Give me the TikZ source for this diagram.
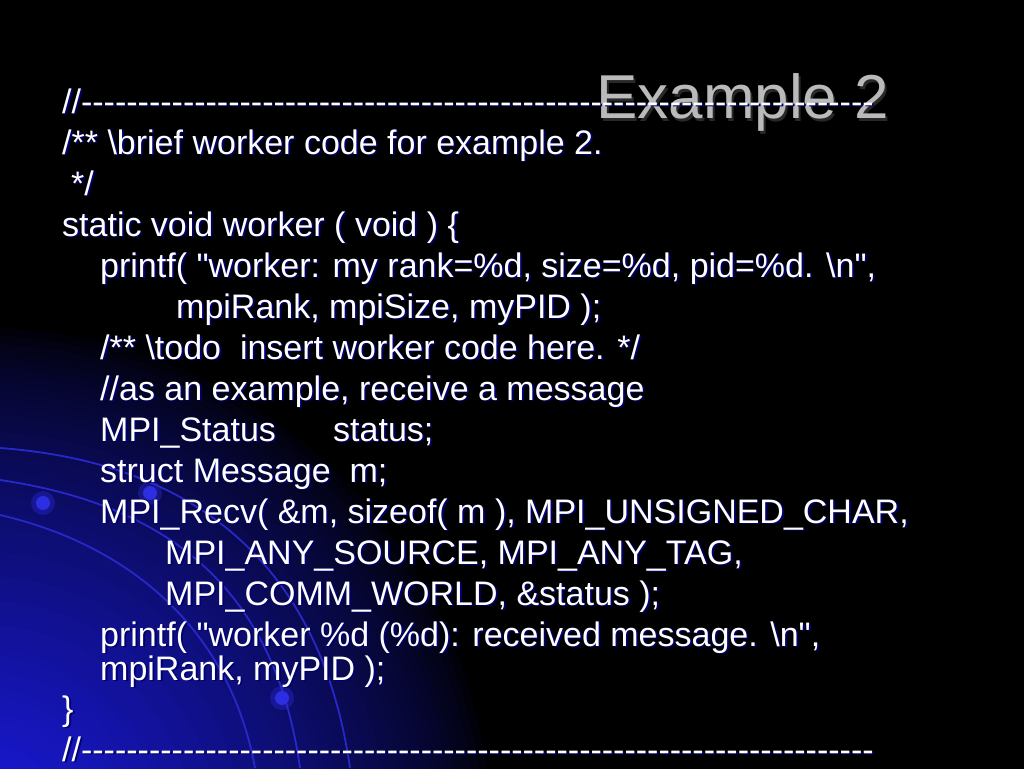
\documentclass[tikz,border=0pt]{standalone}
\usepackage{fontspec}
\newfontfamily\codefont{Liberation Sans}[Ligatures=TeXOff]
\definecolor{glowA}{RGB}{26,26,224}
\definecolor{arcblue}{RGB}{40,40,200}
\definecolor{dotblue}{RGB}{45,45,225}
\definecolor{shadowblue}{RGB}{0,0,110}
\definecolor{titlegray}{RGB}{186,186,186}
\definecolor{titleshade}{RGB}{40,40,40}
\newcommand\codeln[4]{%
  \node[codeshadow] (#1s) at (#2+1.8,#3+1.8) {#4};
  \node[code] (#1) at (#2,#3) {#4};}
\begin{document}
\begin{tikzpicture}[x=1pt,y=-1pt,
  code/.style={anchor=base west,inner sep=0pt,text=white,font=\codefont\fontsize{34}{40}\selectfont},
  codeshadow/.style={code,text=shadowblue},
  titletext/.style={anchor=base west,inner sep=0pt,text=titlegray,font=\codefont\fontsize{62}{70}\selectfont},
  titleshadowtext/.style={titletext,text=titleshade},
  arcline/.style={draw=arcblue,line width=1.8pt},
  halo/.style={fill=dotblue,opacity=0.35},
  dotcore/.style={fill=dotblue}]
\useasboundingbox (0,0) rectangle (1024,768);
\fill[black] (-6,-6) rectangle (1030,774);
\begin{scope}
  \clip (-6,-6) rectangle (1030,774);
  \foreach \i in {64,...,1}{
    \pgfmathsetmacro\rr{\i/70}
    \pgfmathtruncatemacro\pp{round(100*pow(max(0.0001,1-1.08*\rr),0.7))}
    \fill[glowA!\pp!black] (-20,840) circle ({560*\rr});
  }
  \draw[arcline] (0,448) .. controls (190,462) and (320,560) .. (350,768);
  \draw[arcline] (0,480) .. controls (170,505) and (275,590) .. (300,768);
  \draw[arcline] (0,515) .. controls (130,545) and (230,630) .. (255,768);
  \fill[halo] (150,493) circle (12);
  \fill[dotcore] (150,493) circle (7);
  \fill[halo] (43,503) circle (12);
  \fill[dotcore] (43,503) circle (7);
  \fill[halo] (282,698) circle (12);
  \fill[dotcore] (282,698) circle (7);
\end{scope}
% title
\node[titleshadowtext] (titles) at (598,121) {Example 2};
\node[titletext] (title) at (596,118) {Example 2};
% code
\codeln{l1}{62}{113}{//----------------------------------------------------------------------}
\codeln{l2}{62}{154}{/** \textbackslash brief worker code for example 2.}
\codeln{l3}{71}{195}{*/}
\codeln{l4}{62}{236}{static void worker ( void ) \{}
\codeln{l5}{100}{277}{printf( "worker: my rank=\%d, size=\%d, pid=\%d. \textbackslash n",}
\codeln{l6}{176}{318}{mpiRank, mpiSize, myPID );}
\codeln{l7}{100}{359}{/** \textbackslash todo\ \ insert worker code here. */}
\codeln{l8}{100}{400}{//as an example, receive a message}
\codeln{l9a}{100}{441}{MPI\_Status}
\codeln{l9b}{333}{441}{status;}
\codeln{l10}{100}{482}{struct Message\ \ m;}
\codeln{l11}{100}{523}{MPI\_Recv( \&m, sizeof( m ), MPI\_UNSIGNED\_CHAR,}
\codeln{l12}{165}{564}{MPI\_ANY\_SOURCE, MPI\_ANY\_TAG,}
\codeln{l13}{165}{605}{MPI\_COMM\_WORLD, \&status );}
\codeln{l14}{100}{646}{printf( "worker \%d (\%d): received message. \textbackslash n",}
\codeln{l15}{100}{680}{mpiRank, myPID );}
\codeln{l16}{62}{720}{\}}
\codeln{l17}{62}{761}{//----------------------------------------------------------------------}
\end{tikzpicture}
\end{document}
